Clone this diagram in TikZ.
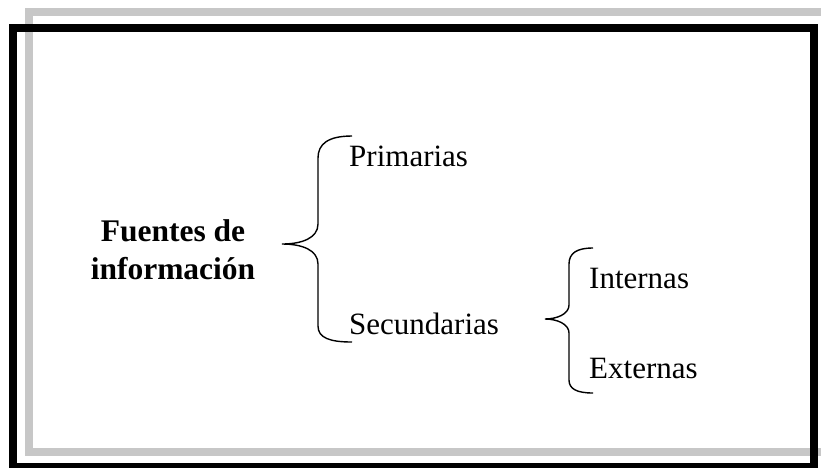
\documentclass[tikz,border=0pt]{standalone}
\usepackage{fontspec}
\setmainfont{Liberation Serif}
\usetikzlibrary{positioning}

\tikzset{
  shadowline/.style={line width=7.5pt,black!22},
  framebox/.style={line width=8pt,black},
  bracel/.style={line width=1.4pt,black},
  itemlabel/.style={anchor=base west,inner sep=0pt,font=\fontsize{31}{38}\selectfont},
}

\begin{document}
\begin{tikzpicture}[x=1pt,y=-1pt]
        \useasboundingbox (0,0) rectangle (821,467);

        % frame
        \draw[shadowline] (821,12) -- (29,12) -- (29,452) -- (821,452);
        \draw[framebox] (13,28) rectangle (813.5,467);

        % labels
        \node[align=center,inner sep=0pt,font=\fontsize{31.5}{38}\selectfont\bfseries] (fuentes) at (173,250) {Fuentes de\\informaci\'on};
        \node[itemlabel] (prim) at (349,166) {Primarias};
        \node[itemlabel] (sec) at (349,334) {Secundarias};
        \node[itemlabel] (int) at (589,288) {Internas};
        \node[itemlabel] (ext) at (589,378) {Externas};

        \coordinate (b1top) at (352,136);
        \coordinate (b1mid) at (282,244);
        \coordinate (b1bot) at (352,342);
        \coordinate (b2top) at (593,248);
        \coordinate (b2mid) at (545,319);
        \coordinate (b2bot) at (593,393);

        % braces
        \draw[bracel] (b1top) .. controls (328,136) and (318,144) .. (318,158) -- (318,224)
            .. controls (318,238) and (302,244) .. (b1mid)
            .. controls (302,244) and (318,250) .. (318,264) -- (318,326)
            .. controls (318,338) and (330,342) .. (b1bot);
        \draw[bracel] (b2top) .. controls (577,248) and (569,253) .. (569,264) -- (569,305)
            .. controls (569,314) and (557,319) .. (b2mid)
            .. controls (557,319) and (569,324) .. (569,333) -- (569,380)
            .. controls (569,389) and (577,393) .. (b2bot);
    \end{tikzpicture}
\end{document}
